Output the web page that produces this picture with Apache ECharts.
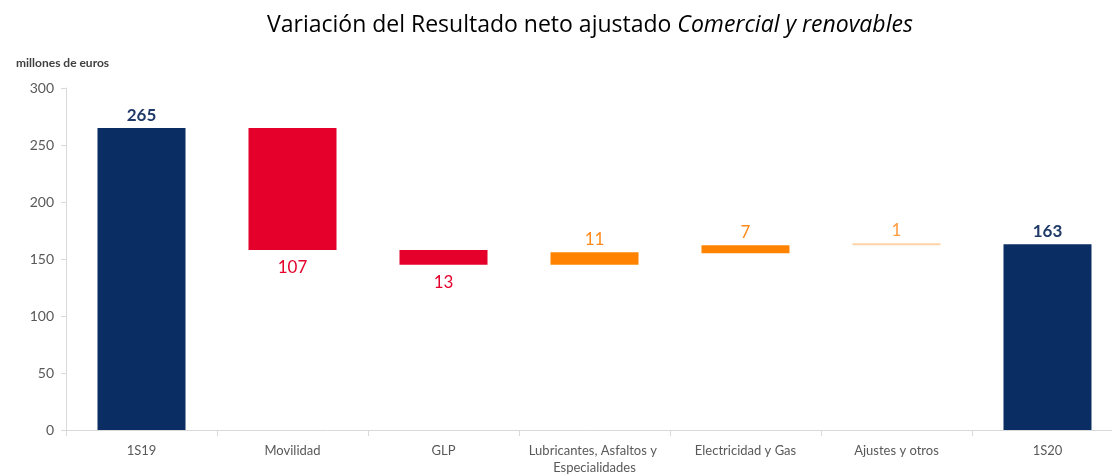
<!DOCTYPE html>
<html>
<head>
<meta charset="utf-8">
<script src="https://cdn.jsdelivr.net/npm/echarts@6/dist/echarts.min.js"></script>
<style>
html, body { margin: 0; padding: 0; background: #fff; }
#chart { width: 1112px; height: 475px; }
</style>
</head>
<body>
<div id="chart"></div>
<script>
// categorias del eje x
var categorias = ['1S19', 'Movilidad', 'GLP', 'Lubricantes, Asfaltos y Especialidades', 'Electricidad y Gas', 'Ajustes y otros', '1S20'];
// base invisible de cada barra
var base = [0, 158, 145, 145, 155, 162, 0];
// altura visible de cada barra
var valores = [265, 107, 13, 11, 7, 1, 163];
// tipo: total, bajada, subida
var tipos = ['total', 'baja', 'baja', 'sube', 'sube', 'ajuste', 'total'];
var yTicks = [0, 50, 100, 150, 200, 250, 300];

var colores = {
    total: '#0a2d63',
    baja: '#e4002b',
    sube: '#ff8300',
    ajuste: '#ffd3a8'
};
var coloresLabel = {
    total: '#1f3a68',
    baja: '#e4002b',
    sube: '#ff8a1a',
    ajuste: '#ff9a3c'
};

(function(){
    var myChart = echarts.init(document.getElementById('chart'));

    var datos = valores.map(function(v, i){
        var t = tipos[i];
        return {
            value: v,
            itemStyle: { color: colores[t] },
            label: {
                position: t == 'baja' ? 'bottom' : 'top',
                color: coloresLabel[t],
                fontWeight: t == 'total' ? 'bold' : 'normal',
                distance: t == 'baja' ? 9 : 4
            }
        };
    });

    var option = {
        animation: false,
        title: [{
            text: 'Variación del Resultado neto ajustado {i|Comercial y renovables}',
            left: 262,
            top: 9,
            textStyle: {
                fontFamily: 'Open Sans',
                fontSize: 23,
                fontWeight: 'normal',
                color: '#000',
                rich: {
                    i: { fontFamily: 'Open Sans', fontSize: 23, fontStyle: 'italic', color: '#000' }
                }
            }
        }, {
            text: 'millones de euros',
            left: 11,
            top: 52,
            textStyle: {
                fontFamily: 'Lato',
                fontSize: 12,
                fontWeight: 'bold',
                color: '#404040'
            }
        }],
        grid: {
            left: 66,
            top: 88,
            width: 1057,
            height: 342,
            outerBoundsMode: 'none'
        },
        xAxis: {
            type: 'category',
            data: categorias,
            axisLine: { lineStyle: { color: '#d9d9d9' } },
            axisTick: { show: true, length: 6, lineStyle: { color: '#d9d9d9' } },
            axisLabel: {
                color: '#595959',
                fontFamily: 'Lato',
                fontSize: 13,
                margin: 12,
                width: 145,
                overflow: 'break',
                interval: 0,
                lineHeight: 17
            }
        },
        yAxis: {
            type: 'value',
            min: 0,
            max: 300,
            interval: 50,
            splitLine: { show: false },
            axisLine: { show: true, lineStyle: { color: '#d9d9d9' } },
            axisTick: { show: true, length: 5, lineStyle: { color: '#d9d9d9' } },
            axisLabel: {
                color: '#595959',
                fontFamily: 'Lato',
                fontSize: 14,
                margin: 12
            }
        },
        series: [
            {
                name: 'base',
                type: 'bar',
                stack: 'total',
                barWidth: 88,
                itemStyle: { color: 'transparent' },
                emphasis: { disabled: true },
                data: base
            },
            {
                name: 'valor',
                type: 'bar',
                stack: 'total',
                barWidth: 88,
                barMinHeight: 2,
                label: {
                    show: true,
                    fontFamily: 'Lato',
                    fontSize: 17
                },
                data: datos
            }
        ]
    };

    myChart.setOption(option);
})();
</script>
</body>
</html>
